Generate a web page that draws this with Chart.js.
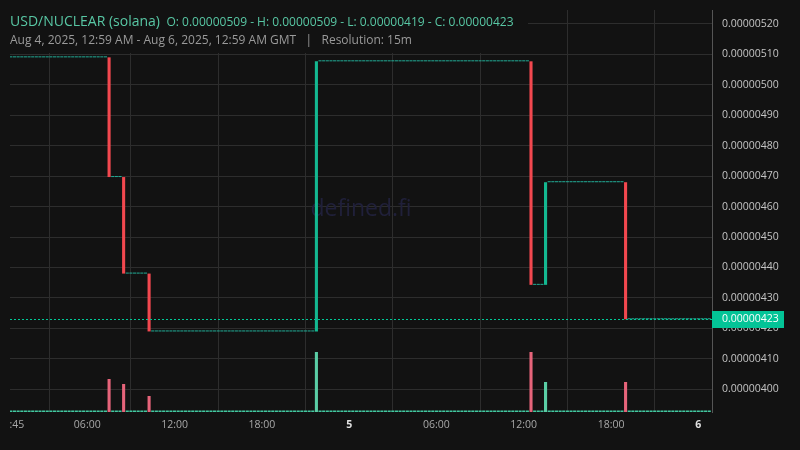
<!DOCTYPE html>
<html>
<head>
<meta charset="utf-8">
<script src="https://cdn.jsdelivr.net/npm/chart.js@4.4.1/dist/chart.umd.min.js"></script>
<style>
  html, body { margin: 0; padding: 0; background: #121212; width: 800px; height: 450px; overflow: hidden; }
  #clip { position: absolute; left: 9px; top: 0; width: 791px; height: 450px; overflow: hidden; }
  #wrap { position: absolute; left: -9px; top: 0; width: 800px; height: 450px; }
  #hdr { position: absolute; left: 0; top: 0; width: 528px; height: 53px; background: #121212; font-family: 'Open Sans', sans-serif; white-space: pre; }
  #l1 { position: absolute; left: 10px; top: 12.6px; line-height: 14px; color: #58c7a4; }
  #l1 .pair { font-size: 14px; }
  #l1 .ohlc { font-size: 12px; margin-left: 6.5px; }
  #l2 { position: absolute; left: 10px; top: 34.3px; line-height: 12px; font-size: 12px; color: #9a9a9a; }
</style>
</head>
<body>
<div id="clip"><div id="wrap"><canvas id="c" width="800" height="450"></canvas></div></div>
<div id="hdr">
  <div id="l1"><span class="pair">USD/NUCLEAR (solana)</span><span class="ohlc">O: 0.00000509 - H: 0.00000509 - L: 0.00000419 - C: 0.00000423</span></div>
  <div id="l2">Aug 4, 2025, 12:59 AM - Aug 6, 2025, 12:59 AM GMT   |   Resolution: 15m</div>
</div>
<script>
// ---- data (15-minute candles, GMT) ----
// runs of candles without trades (open = close = price)
const quietFrom  = ['2025-08-04T00:45Z', '2025-08-04T07:45Z', '2025-08-04T08:45Z', '2025-08-04T10:30Z', '2025-08-04T22:00Z', '2025-08-05T12:45Z', '2025-08-05T13:45Z', '2025-08-05T19:15Z'];
const quietTo    = ['2025-08-04T07:15Z', '2025-08-04T08:15Z', '2025-08-04T10:00Z', '2025-08-04T21:30Z', '2025-08-05T12:15Z', '2025-08-05T13:15Z', '2025-08-05T18:45Z', '2025-08-06T00:45Z'];
const quietPrice = [0.00000509, 0.000004697, 0.00000438, 0.00000419, 0.000005077, 0.000004343, 0.00000468, 0.00000423];
// candles with trades
const tradeTime   = ['2025-08-04T07:30Z', '2025-08-04T08:30Z', '2025-08-04T10:15Z', '2025-08-04T21:45Z', '2025-08-05T12:30Z', '2025-08-05T13:30Z', '2025-08-05T19:00Z'];
const tradeOpen   = [0.00000509, 0.000004697, 0.00000438, 0.00000419, 0.000005077, 0.000004343, 0.00000468];
const tradeClose  = [0.000004697, 0.00000438, 0.00000419, 0.000005077, 0.000004343, 0.00000468, 0.00000423];
const tradeVolume = [33, 28, 16, 60, 60, 30, 30];
const quietVolume = 0;
const lastPrice = 0.00000423;
// axis ticks
const xTickHours  = [0.75, 6, 12, 18, 24, 30, 36, 42, 48];
const xTickLabels = ['00:45', '06:00', '12:00', '18:00', '5', '06:00', '12:00', '18:00', '6'];
const xTickMajor  = [false, false, false, false, true, false, false, false, true];
const yTickStep = 0.0000001;

// ---- build candle table ----
const T0 = Date.parse('2025-08-04T00:00Z');
const toHour = s => (Date.parse(s) - T0) / 3600000;
const candles = [];
for (let r = 0; r < quietFrom.length; r++) {
  for (let h = toHour(quietFrom[r]); h <= toHour(quietTo[r]) + 1e-9; h += 0.25) {
    candles.push({ x: h, o: quietPrice[r], c: quietPrice[r], v: quietVolume });
  }
}
for (let i = 0; i < tradeTime.length; i++) {
  candles.push({ x: toHour(tradeTime[i]), o: tradeOpen[i], c: tradeClose[i], v: tradeVolume[i] });
}
candles.sort((a, b) => a.x - b.x);

const UP = '#14b891', DOWN = '#f2484f', FLAT = '#22ad97';
const VUP = '#5acda5', VDOWN = '#e6647a', VFLAT = '#43c8a0';
const priceColor = candles.map(k => k.c > k.o ? UP : (k.c < k.o ? DOWN : FLAT));
const volColor = candles.map(k => k.c > k.o ? VUP : (k.c < k.o ? VDOWN : VFLAT));

const overlay = {
  id: 'overlay',
  beforeDatasetsDraw(chart) {
    const { ctx, chartArea: a } = chart;
    ctx.save();
    ctx.font = '23px "Open Sans"';
    ctx.fillStyle = '#20203a';
    ctx.textAlign = 'center';
    ctx.textBaseline = 'alphabetic';
    ctx.fillText('defined.fi', (a.left + a.right) / 2, (a.top + a.bottom) / 2 + 5);
    ctx.restore();
  },
  afterDraw(chart) {
    const { ctx, chartArea: a } = chart;
    const y = Math.round(chart.scales.y.getPixelForValue(lastPrice)) + 0.5;
    ctx.save();
    ctx.strokeStyle = '#00c896';
    ctx.lineWidth = 1;
    ctx.setLineDash([2, 2]);
    ctx.beginPath();
    ctx.moveTo(a.left, y);
    ctx.lineTo(a.right, y);
    ctx.stroke();
    ctx.setLineDash([]);
    ctx.fillStyle = '#03c497';
    ctx.fillRect(a.right, y - 8.5, 72, 17);
    ctx.fillStyle = '#ffffff';
    ctx.font = '10.5px "Open Sans"';
    ctx.textAlign = 'left';
    ctx.textBaseline = 'middle';
    ctx.fillText(lastPrice.toFixed(8), a.right + 10, y);
    ctx.restore();
  }
};

new Chart(document.getElementById('c'), {
  type: 'bar',
  data: {
    datasets: [
      {
        label: 'price',
        data: candles.map(k => ({ x: k.x, y: [k.o, k.c] })),
        backgroundColor: priceColor,
        borderWidth: 0,
        inflateAmount: 0,
        minBarLength: 1,
        grouped: false,
        barPercentage: 0.85,
        categoryPercentage: 1,
        yAxisID: 'y',
        order: 1
      },
      {
        label: 'volume',
        data: candles.map(k => ({ x: k.x, y: k.v })),
        backgroundColor: volColor,
        borderWidth: 0,
        inflateAmount: 0,
        minBarLength: 1.5,
        grouped: false,
        barPercentage: 0.85,
        categoryPercentage: 1,
        yAxisID: 'y1',
        order: 2
      }
    ]
  },
  options: {
    responsive: false,
    animation: false,
    layout: { padding: { top: 10, left: 10, right: 0, bottom: 0 } },
    plugins: { legend: { display: false }, tooltip: { enabled: false }, title: { display: false } },
    scales: {
      x: {
        type: 'linear',
        min: 0.69,
        max: 48.94,
        offset: false,
        grid: { color: '#2d2d2d', drawTicks: false },
        border: { display: false },
        afterBuildTicks(scale) {
          scale.ticks = xTickHours.map((v, i) => ({ value: v, major: xTickMajor[i], label: xTickLabels[i] }));
        },
        afterFit(scale) { scale.height = 38; scale.paddingLeft = 0; scale.paddingRight = 0; },
        ticks: {
          autoSkip: false,
          maxRotation: 0,
          padding: 7,
          callback(value, index) { return xTickLabels[index]; },
          color: ctx => ctx.tick && ctx.tick.major ? '#e0e0e0' : '#a8a8a8',
          font: ctx => ({ family: 'Open Sans', size: 10.5, weight: ctx.tick && ctx.tick.major ? 'bold' : 'normal' })
        }
      },
      y: {
        position: 'right',
        min: 0.0000039255,
        max: 0.0000052455,
        grid: { color: '#2d2d2d', drawTicks: false },
        border: { display: true, color: '#555555' },
        afterFit(scale) { scale.width = 88; scale.paddingTop = 0; scale.paddingBottom = 0; },
        ticks: {
          stepSize: yTickStep,
          includeBounds: false,
          padding: 10,
          color: '#c4c4c4',
          font: { family: 'Open Sans', size: 10.5 },
          callback: v => Number(v).toFixed(8)
        }
      },
      y1: {
        display: false,
        min: 0,
        max: 402,
        grid: { display: false }
      }
    }
  },
  plugins: [overlay]
});
</script>
</body>
</html>
